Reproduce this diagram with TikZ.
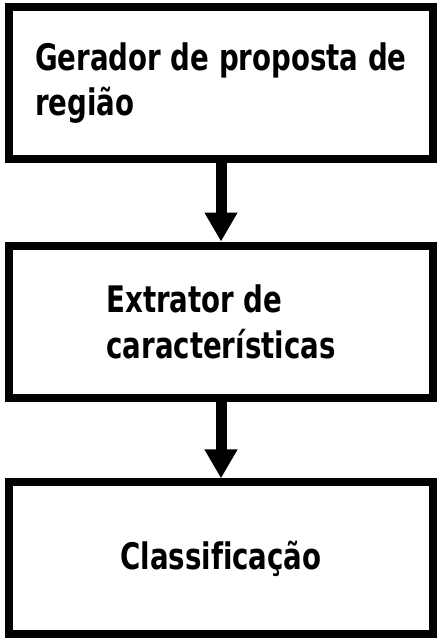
\documentclass[tikz,border=0pt]{standalone}
\usepackage{fontspec}
\setmainfont[FakeStretch=0.84, Ligatures=NoCommon]{DejaVu Sans Condensed}
\usepackage{tikz}
\usetikzlibrary{arrows.meta,positioning}

\begin{document}
\begin{tikzpicture}
			\tikzstyle{Block}	= [rectangle, draw, line width=0.2cm, fill=white, minimum width=10.6cm, minimum height=3.8cm, inner sep=0pt, align=left, font=\fontsize{26}{32.6}\selectfont\bfseries]
			\tikzstyle{Seta}	= [line width=0.275cm, -{Triangle[length=0.725cm, width=0.775cm]}]

			\useasboundingbox (0, 0) rectangle (10.95, -16);

			\node (gerador) at (5.525, -2.075) [Block] {Gerador de proposta de\\região};
			\node (extrator) at (5.525, -8.04) [Block] {Extrator de\\características};
			\node (classif) at (5.525, -13.96) [Block] {Classificação};

			\draw [Seta] (gerador) to (extrator);
			\draw [Seta] (extrator) to (classif);
		\end{tikzpicture}
\end{document}
